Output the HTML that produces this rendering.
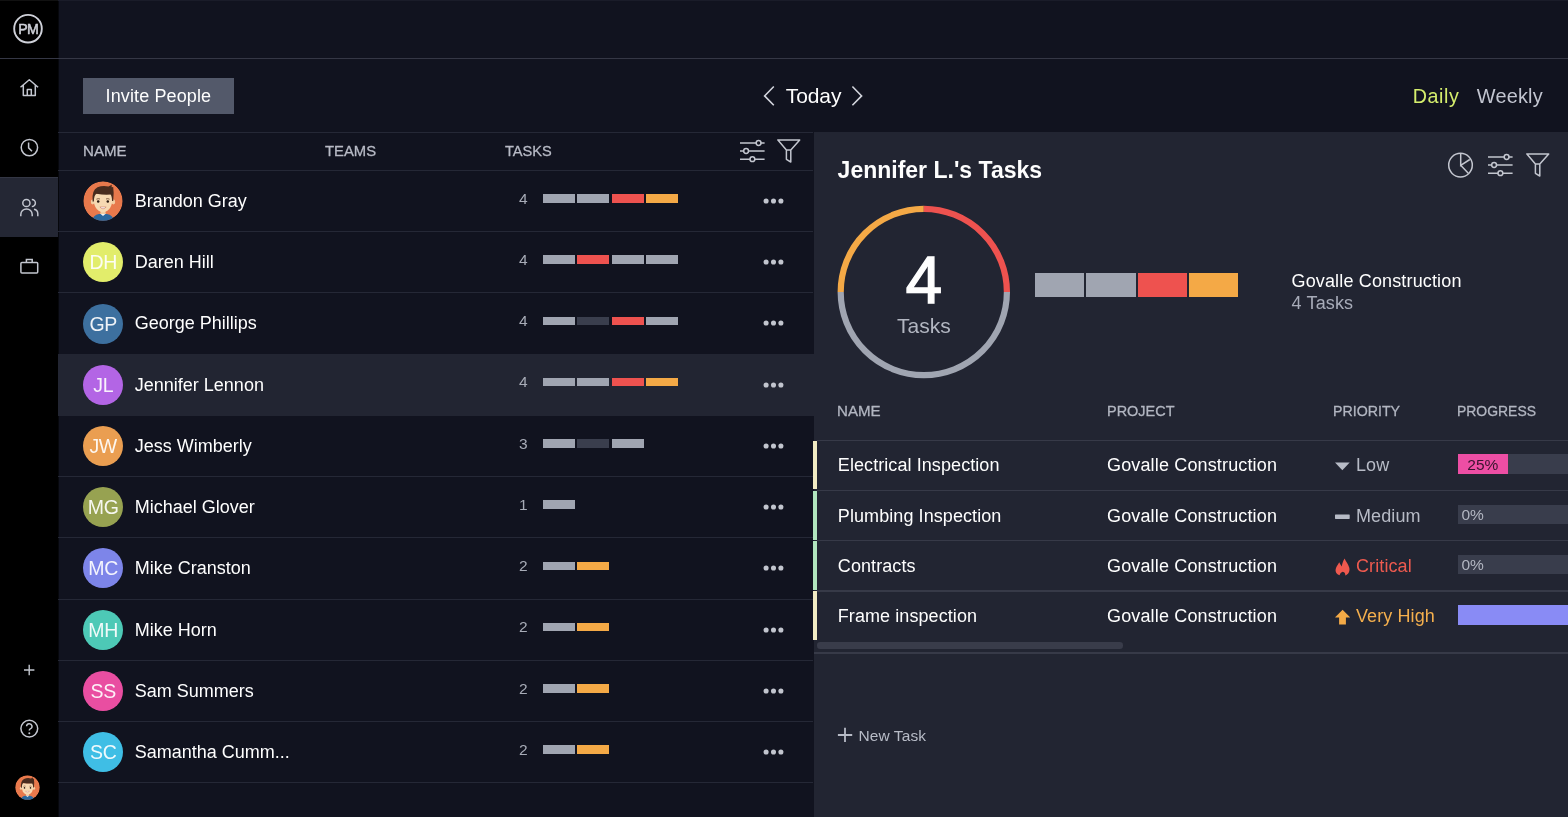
<!DOCTYPE html>
<html><head><meta charset="utf-8"><title>ProjectManager - Team</title>
<style>*{margin:0;padding:0;box-sizing:border-box}
html,body{width:1568px;height:817px;overflow:hidden;background:#11131f;font-family:"Liberation Sans", sans-serif}
#root{position:absolute;left:0;top:0;width:1568px;height:817px;overflow:hidden;will-change:transform;opacity:0.999}
.r{position:absolute}
.t{position:absolute;white-space:nowrap;line-height:1}
.av{position:absolute;width:40px;height:40px;border-radius:50%;color:rgba(255,255,255,0.92);font-size:19.5px;line-height:40px;text-align:center;letter-spacing:-0.3px;font-family:"Liberation Sans", sans-serif}
.dot{position:absolute;width:5.4px;height:5.4px;border-radius:50%;background:#c3c6cf}
</style></head>
<body>
<div id="root">
<div class="r" style="left:0px;top:0px;width:58px;height:817px;background:#000;"></div>
<div class="r" style="left:0px;top:177px;width:58px;height:60px;background:#252835;"></div>
<div class="r" style="left:0px;top:177px;width:58px;height:1px;background:#343745;"></div>
<div class="r" style="left:58px;top:0px;width:1px;height:817px;background:#07080d;"></div>
<div class="r" style="left:0px;top:0px;width:58px;height:1px;background:#121212;"></div>
<div class="r" style="left:58px;top:0px;width:1510px;height:1px;background:#1b1d2a;"></div>
<div class="r" style="left:0px;top:58px;width:1568px;height:1px;background:#363846;"></div>
<svg class="r" style="left:0;top:0" width="58" height="58" viewBox="0 0 58 58">
<circle cx="28" cy="28.7" r="13.8" fill="none" stroke="#d0d2da" stroke-width="1.9"/>
<text x="28.3" y="34.3" text-anchor="middle" font-family="Liberation Sans" font-weight="400" font-size="14.2" letter-spacing="-0.6" fill="#d0d2da" stroke="#d0d2da" stroke-width="0.5">PM</text></svg>
<svg class="r" style="left:19px;top:78px" width="21" height="20" viewBox="0 0 21 20">
<path d="M1.5 9.2 L10.3 1.8 L19.1 9.2 M4.3 7.3 V17.6 H16.3 V7.3 M8.3 17.6 V11.6 H12.3 V17.6" fill="none" stroke="#c4c7d0" stroke-width="1.5" stroke-linejoin="round"/></svg>
<svg class="r" style="left:19px;top:137px" width="21" height="21" viewBox="0 0 21 21">
<circle cx="10.4" cy="10.6" r="8.2" fill="none" stroke="#c4c7d0" stroke-width="1.5"/>
<path d="M9.6 5.6 V10.9 L13 14.2" fill="none" stroke="#c4c7d0" stroke-width="1.5"/></svg>
<svg class="r" style="left:19px;top:197px" width="21" height="21" viewBox="0 0 21 21">
<circle cx="7.4" cy="6" r="3.6" fill="none" stroke="#c4c7d0" stroke-width="1.5"/>
<path d="M1.8 19.2 V17.6 A5.7 5.7 0 0 1 13.2 17.6 V19.2" fill="none" stroke="#c4c7d0" stroke-width="1.5"/>
<path d="M12.8 2.4 A3.6 3.6 0 0 1 12.8 9.6" fill="none" stroke="#c4c7d0" stroke-width="1.5"/>
<path d="M15 12.3 A4.6 4.6 0 0 1 18.8 16.8 V19.2" fill="none" stroke="#c4c7d0" stroke-width="1.5"/></svg>
<svg class="r" style="left:19px;top:257px" width="21" height="19" viewBox="0 0 21 19">
<rect x="1.9" y="5.4" width="16.8" height="10.6" rx="1" fill="none" stroke="#c4c7d0" stroke-width="1.5"/>
<path d="M7.4 5.4 V2.6 H13.2 V5.4" fill="none" stroke="#c4c7d0" stroke-width="1.5"/></svg>
<svg class="r" style="left:23px;top:664px" width="13" height="13" viewBox="0 0 13 13">
<path d="M6.2 0.8 V11.2 M1 6 H11.4" stroke="#c4c7d0" stroke-width="1.4"/></svg>
<svg class="r" style="left:19px;top:718px" width="21" height="21" viewBox="0 0 21 21">
<circle cx="10.3" cy="10.6" r="8.4" fill="none" stroke="#c4c7d0" stroke-width="1.5"/>
<path d="M7.6 8.3 A2.7 2.7 0 1 1 11.2 10.9 C10.4 11.3 10.3 11.8 10.3 12.6" fill="none" stroke="#c4c7d0" stroke-width="1.5"/>
<circle cx="10.3" cy="15.2" r="1" fill="#c4c7d0"/></svg>
<svg class="r" style="left:14.5px;top:775px" width="25" height="25" viewBox="0 0 40 40">
<defs><clipPath id="c14.5775"><circle cx="20" cy="20" r="19.7"/></clipPath></defs>
<g clip-path="url(#c14.5775)">
<circle cx="20" cy="20" r="19.7" fill="#e97a4d"/>
<path d="M9 40 Q10 34 16 33 L24 33 Q30 34 31 40 Z" fill="#2d6aa0"/>
<path d="M17 32.6 L20 35 L23 32.6 Z" fill="#f4f4f4"/>
<rect x="17.5" y="29" width="5" height="4" fill="#f3cfa4"/>
<ellipse cx="9.6" cy="21" rx="1.8" ry="2.4" fill="#f3cfa4"/>
<ellipse cx="30.4" cy="21" rx="1.8" ry="2.4" fill="#f3cfa4"/>
<path d="M10.2 13 Q10 30.6 20 31.2 Q30 30.6 29.8 13 Z" fill="#f8dab3"/>
<path d="M9.6 20.5 Q8.5 9 14.5 6.2 Q20 4 25.5 5.5 L28.8 3.8 L28.6 6.3 L30.2 6.1 Q31.2 12 30.2 20 L29 20 Q29 15 27.5 13.5 Q21 14 13.5 12.8 Q11 14 10.9 20.5 Z" fill="#4a2d1f"/>
<circle cx="15.2" cy="20.6" r="1.25" fill="#2a1a12"/>
<circle cx="24.8" cy="20.6" r="1.25" fill="#2a1a12"/>
<path d="M13.4 18.2 Q15.2 17.2 17 18" stroke="#6b4430" stroke-width="0.8" fill="none"/>
<path d="M23 18 Q24.8 17.2 26.6 18.2" stroke="#6b4430" stroke-width="0.8" fill="none"/>
<path d="M16.9 26 Q20 29.6 23.1 26 Z" fill="#fff" stroke="#b5493a" stroke-width="0.4"/>
</g></svg>
<div class="r" style="left:83px;top:78px;width:151px;height:36px;background:#545a6b;"></div>
<div class="t" style="left:105.60px;top:86.96px;font-size:18px;color:#fff;font-weight:400;letter-spacing:0.12px;">Invite People</div>
<svg class="r" style="left:762px;top:85px" width="14" height="22" viewBox="0 0 14 22">
<path d="M11.8 1.5 L2.6 10.9 L11.8 20.3" fill="none" stroke="#d4d6de" stroke-width="1.6"/></svg>
<svg class="r" style="left:850px;top:85px" width="14" height="22" viewBox="0 0 14 22">
<path d="M2.4 1.5 L11.6 10.9 L2.4 20.3" fill="none" stroke="#d4d6de" stroke-width="1.6"/></svg>
<div class="t" style="left:785.80px;top:85.22px;font-size:21px;color:#fff;font-weight:400;letter-spacing:-0.1px;">Today</div>
<div class="t" style="left:1412.80px;top:86.92px;font-size:19.7px;color:#d6ef6e;font-weight:400;letter-spacing:0.55px;">Daily</div>
<div class="t" style="left:1476.80px;top:86.75px;font-size:19.9px;color:#c3c6d1;font-weight:400;letter-spacing:0.2px;">Weekly</div>
<div class="r" style="left:58px;top:132px;width:755px;height:1px;background:#262937;"></div>
<div class="t" style="left:82.80px;top:143.28px;font-size:15.5px;color:#b9bcc7;font-weight:400;letter-spacing:0px;-webkit-text-stroke:0.3px #b9bcc7;transform:scaleX(0.975);transform-origin:0 0">NAME</div>
<div class="t" style="left:324.60px;top:143.28px;font-size:15.5px;color:#b9bcc7;font-weight:400;letter-spacing:0px;-webkit-text-stroke:0.3px #b9bcc7;transform:scaleX(0.957);transform-origin:0 0">TEAMS</div>
<div class="t" style="left:505.00px;top:143.28px;font-size:15.5px;color:#b9bcc7;font-weight:400;letter-spacing:0px;-webkit-text-stroke:0.3px #b9bcc7;transform:scaleX(0.941);transform-origin:0 0">TASKS</div>
<svg class="r" style="left:739.9px;top:139px" width="26" height="24" viewBox="0 0 26 24">
<path d="M0 4 H24.6 M0 12 H24.6 M0 20.2 H24.6" stroke="#c4c7d0" stroke-width="1.5"/>
<circle cx="18.6" cy="4" r="2.4" fill="#11131f" stroke="#c4c7d0" stroke-width="1.5"/>
<circle cx="6.1" cy="12" r="2.4" fill="#11131f" stroke="#c4c7d0" stroke-width="1.5"/>
<circle cx="12.4" cy="20.2" r="2.4" fill="#11131f" stroke="#c4c7d0" stroke-width="1.5"/></svg>
<svg class="r" style="left:777.1px;top:139.4px" width="25" height="25" viewBox="0 0 25 25">
<path d="M0.9 0.9 L22.7 0.9 L13.8 10.9 L13.8 23 L9.4 20.3 L9.4 10.9 Z M9.4 10.9 L13.8 10.9" fill="none" stroke="#c4c7d0" stroke-width="1.5" stroke-linejoin="round"/></svg>
<div class="r" style="left:58px;top:170px;width:755px;height:1px;background:#262937;"></div>
<svg class="r" style="left:83.2px;top:181.0px" width="40" height="40" viewBox="0 0 40 40">
<defs><clipPath id="c83.2181.0"><circle cx="20" cy="20" r="19.7"/></clipPath></defs>
<g clip-path="url(#c83.2181.0)">
<circle cx="20" cy="20" r="19.7" fill="#e97a4d"/>
<path d="M9 40 Q10 34 16 33 L24 33 Q30 34 31 40 Z" fill="#2d6aa0"/>
<path d="M17 32.6 L20 35 L23 32.6 Z" fill="#f4f4f4"/>
<rect x="17.5" y="29" width="5" height="4" fill="#f3cfa4"/>
<ellipse cx="9.6" cy="21" rx="1.8" ry="2.4" fill="#f3cfa4"/>
<ellipse cx="30.4" cy="21" rx="1.8" ry="2.4" fill="#f3cfa4"/>
<path d="M10.2 13 Q10 30.6 20 31.2 Q30 30.6 29.8 13 Z" fill="#f8dab3"/>
<path d="M9.6 20.5 Q8.5 9 14.5 6.2 Q20 4 25.5 5.5 L28.8 3.8 L28.6 6.3 L30.2 6.1 Q31.2 12 30.2 20 L29 20 Q29 15 27.5 13.5 Q21 14 13.5 12.8 Q11 14 10.9 20.5 Z" fill="#4a2d1f"/>
<circle cx="15.2" cy="20.6" r="1.25" fill="#2a1a12"/>
<circle cx="24.8" cy="20.6" r="1.25" fill="#2a1a12"/>
<path d="M13.4 18.2 Q15.2 17.2 17 18" stroke="#6b4430" stroke-width="0.8" fill="none"/>
<path d="M23 18 Q24.8 17.2 26.6 18.2" stroke="#6b4430" stroke-width="0.8" fill="none"/>
<path d="M16.9 26 Q20 29.6 23.1 26 Z" fill="#fff" stroke="#b5493a" stroke-width="0.4"/>
</g></svg>
<div class="t" style="left:134.80px;top:191.96px;font-size:18px;color:#fff;font-weight:400;letter-spacing:0px;">Brandon Gray</div>
<div class="t" style="left:519.00px;top:190.58px;font-size:15.5px;color:#a9adb8;font-weight:400;letter-spacing:0px;">4</div>
<div class="r" style="left:543.0px;top:194.1px;width:32px;height:8.6px;background:#a1a6b2;"></div>
<div class="r" style="left:577.3px;top:194.1px;width:32px;height:8.6px;background:#a1a6b2;"></div>
<div class="r" style="left:611.6px;top:194.1px;width:32px;height:8.6px;background:#ef5350;"></div>
<div class="r" style="left:645.9px;top:194.1px;width:32px;height:8.6px;background:#f5aa47;"></div>
<svg class="r" style="left:760px;top:196.00px" width="26" height="10" viewBox="0 0 26 10"><circle cx="6.1" cy="5" r="2.55" fill="#c3c6cf"/><circle cx="13.5" cy="5" r="2.55" fill="#c3c6cf"/><circle cx="20.9" cy="5" r="2.55" fill="#c3c6cf"/></svg>
<div class="r" style="left:58px;top:231px;width:755px;height:1px;background:#262937;"></div>
<div class="av" style="left:83.2px;top:242.2px;background:#e3ee6c">DH</div>
<div class="t" style="left:134.80px;top:253.20px;font-size:18px;color:#fff;font-weight:400;letter-spacing:0px;">Daren Hill</div>
<div class="t" style="left:519.00px;top:251.82px;font-size:15.5px;color:#a9adb8;font-weight:400;letter-spacing:0px;">4</div>
<div class="r" style="left:543.0px;top:255.3px;width:32px;height:8.6px;background:#a1a6b2;"></div>
<div class="r" style="left:577.3px;top:255.3px;width:32px;height:8.6px;background:#ef5350;"></div>
<div class="r" style="left:611.6px;top:255.3px;width:32px;height:8.6px;background:#a1a6b2;"></div>
<div class="r" style="left:645.9px;top:255.3px;width:32px;height:8.6px;background:#a1a6b2;"></div>
<svg class="r" style="left:760px;top:257.24px" width="26" height="10" viewBox="0 0 26 10"><circle cx="6.1" cy="5" r="2.55" fill="#c3c6cf"/><circle cx="13.5" cy="5" r="2.55" fill="#c3c6cf"/><circle cx="20.9" cy="5" r="2.55" fill="#c3c6cf"/></svg>
<div class="r" style="left:58px;top:292px;width:755px;height:1px;background:#262937;"></div>
<div class="av" style="left:83.2px;top:303.5px;background:#3e71a0">GP</div>
<div class="t" style="left:134.80px;top:314.44px;font-size:18px;color:#fff;font-weight:400;letter-spacing:0px;">George Phillips</div>
<div class="t" style="left:519.00px;top:313.06px;font-size:15.5px;color:#a9adb8;font-weight:400;letter-spacing:0px;">4</div>
<div class="r" style="left:543.0px;top:316.6px;width:32px;height:8.6px;background:#a1a6b2;"></div>
<div class="r" style="left:577.3px;top:316.6px;width:32px;height:8.6px;background:#3b3f4e;"></div>
<div class="r" style="left:611.6px;top:316.6px;width:32px;height:8.6px;background:#ef5350;"></div>
<div class="r" style="left:645.9px;top:316.6px;width:32px;height:8.6px;background:#a1a6b2;"></div>
<svg class="r" style="left:760px;top:318.48px" width="26" height="10" viewBox="0 0 26 10"><circle cx="6.1" cy="5" r="2.55" fill="#c3c6cf"/><circle cx="13.5" cy="5" r="2.55" fill="#c3c6cf"/><circle cx="20.9" cy="5" r="2.55" fill="#c3c6cf"/></svg>
<div class="r" style="left:58px;top:354px;width:755px;height:1px;background:#262937;"></div>
<div class="r" style="left:58px;top:354px;width:756px;height:62px;background:#232633;"></div>
<div class="av" style="left:83.2px;top:364.7px;background:#b466e6">JL</div>
<div class="t" style="left:134.80px;top:375.68px;font-size:18px;color:#fff;font-weight:400;letter-spacing:0px;">Jennifer Lennon</div>
<div class="t" style="left:519.00px;top:374.30px;font-size:15.5px;color:#a9adb8;font-weight:400;letter-spacing:0px;">4</div>
<div class="r" style="left:543.0px;top:377.8px;width:32px;height:8.6px;background:#a1a6b2;"></div>
<div class="r" style="left:577.3px;top:377.8px;width:32px;height:8.6px;background:#a1a6b2;"></div>
<div class="r" style="left:611.6px;top:377.8px;width:32px;height:8.6px;background:#ef5350;"></div>
<div class="r" style="left:645.9px;top:377.8px;width:32px;height:8.6px;background:#f5aa47;"></div>
<svg class="r" style="left:760px;top:379.72px" width="26" height="10" viewBox="0 0 26 10"><circle cx="6.1" cy="5" r="2.55" fill="#c3c6cf"/><circle cx="13.5" cy="5" r="2.55" fill="#c3c6cf"/><circle cx="20.9" cy="5" r="2.55" fill="#c3c6cf"/></svg>
<div class="av" style="left:83.2px;top:426.0px;background:#eb9f52">JW</div>
<div class="t" style="left:134.80px;top:436.92px;font-size:18px;color:#fff;font-weight:400;letter-spacing:0px;">Jess Wimberly</div>
<div class="t" style="left:519.00px;top:435.54px;font-size:15.5px;color:#a9adb8;font-weight:400;letter-spacing:0px;">3</div>
<div class="r" style="left:543.0px;top:439.1px;width:32px;height:8.6px;background:#a1a6b2;"></div>
<div class="r" style="left:577.3px;top:439.1px;width:32px;height:8.6px;background:#3b3f4e;"></div>
<div class="r" style="left:611.6px;top:439.1px;width:32px;height:8.6px;background:#a1a6b2;"></div>
<svg class="r" style="left:760px;top:440.96px" width="26" height="10" viewBox="0 0 26 10"><circle cx="6.1" cy="5" r="2.55" fill="#c3c6cf"/><circle cx="13.5" cy="5" r="2.55" fill="#c3c6cf"/><circle cx="20.9" cy="5" r="2.55" fill="#c3c6cf"/></svg>
<div class="r" style="left:58px;top:476px;width:755px;height:1px;background:#262937;"></div>
<div class="av" style="left:83.2px;top:487.2px;background:#98a352">MG</div>
<div class="t" style="left:134.80px;top:498.16px;font-size:18px;color:#fff;font-weight:400;letter-spacing:0px;">Michael Glover</div>
<div class="t" style="left:519.00px;top:496.78px;font-size:15.5px;color:#a9adb8;font-weight:400;letter-spacing:0px;">1</div>
<div class="r" style="left:543.0px;top:500.3px;width:32px;height:8.6px;background:#a1a6b2;"></div>
<svg class="r" style="left:760px;top:502.20px" width="26" height="10" viewBox="0 0 26 10"><circle cx="6.1" cy="5" r="2.55" fill="#c3c6cf"/><circle cx="13.5" cy="5" r="2.55" fill="#c3c6cf"/><circle cx="20.9" cy="5" r="2.55" fill="#c3c6cf"/></svg>
<div class="r" style="left:58px;top:537px;width:755px;height:1px;background:#262937;"></div>
<div class="av" style="left:83.2px;top:548.4px;background:#7e86ea">MC</div>
<div class="t" style="left:134.80px;top:559.40px;font-size:18px;color:#fff;font-weight:400;letter-spacing:0px;">Mike Cranston</div>
<div class="t" style="left:519.00px;top:558.02px;font-size:15.5px;color:#a9adb8;font-weight:400;letter-spacing:0px;">2</div>
<div class="r" style="left:543.0px;top:561.5px;width:32px;height:8.6px;background:#a1a6b2;"></div>
<div class="r" style="left:577.3px;top:561.5px;width:32px;height:8.6px;background:#f5aa47;"></div>
<svg class="r" style="left:760px;top:563.44px" width="26" height="10" viewBox="0 0 26 10"><circle cx="6.1" cy="5" r="2.55" fill="#c3c6cf"/><circle cx="13.5" cy="5" r="2.55" fill="#c3c6cf"/><circle cx="20.9" cy="5" r="2.55" fill="#c3c6cf"/></svg>
<div class="r" style="left:58px;top:599px;width:755px;height:1px;background:#262937;"></div>
<div class="av" style="left:83.2px;top:609.7px;background:#4ecab7">MH</div>
<div class="t" style="left:134.80px;top:620.64px;font-size:18px;color:#fff;font-weight:400;letter-spacing:0px;">Mike Horn</div>
<div class="t" style="left:519.00px;top:619.26px;font-size:15.5px;color:#a9adb8;font-weight:400;letter-spacing:0px;">2</div>
<div class="r" style="left:543.0px;top:622.8px;width:32px;height:8.6px;background:#a1a6b2;"></div>
<div class="r" style="left:577.3px;top:622.8px;width:32px;height:8.6px;background:#f5aa47;"></div>
<svg class="r" style="left:760px;top:624.68px" width="26" height="10" viewBox="0 0 26 10"><circle cx="6.1" cy="5" r="2.55" fill="#c3c6cf"/><circle cx="13.5" cy="5" r="2.55" fill="#c3c6cf"/><circle cx="20.9" cy="5" r="2.55" fill="#c3c6cf"/></svg>
<div class="r" style="left:58px;top:660px;width:755px;height:1px;background:#262937;"></div>
<div class="av" style="left:83.2px;top:670.9px;background:#ea4fa2">SS</div>
<div class="t" style="left:134.80px;top:681.88px;font-size:18px;color:#fff;font-weight:400;letter-spacing:0px;">Sam Summers</div>
<div class="t" style="left:519.00px;top:680.50px;font-size:15.5px;color:#a9adb8;font-weight:400;letter-spacing:0px;">2</div>
<div class="r" style="left:543.0px;top:684.0px;width:32px;height:8.6px;background:#a1a6b2;"></div>
<div class="r" style="left:577.3px;top:684.0px;width:32px;height:8.6px;background:#f5aa47;"></div>
<svg class="r" style="left:760px;top:685.92px" width="26" height="10" viewBox="0 0 26 10"><circle cx="6.1" cy="5" r="2.55" fill="#c3c6cf"/><circle cx="13.5" cy="5" r="2.55" fill="#c3c6cf"/><circle cx="20.9" cy="5" r="2.55" fill="#c3c6cf"/></svg>
<div class="r" style="left:58px;top:721px;width:755px;height:1px;background:#262937;"></div>
<div class="av" style="left:83.2px;top:732.2px;background:#40bfe6">SC</div>
<div class="t" style="left:134.80px;top:743.12px;font-size:18px;color:#fff;font-weight:400;letter-spacing:0px;">Samantha Cumm...</div>
<div class="t" style="left:519.00px;top:741.74px;font-size:15.5px;color:#a9adb8;font-weight:400;letter-spacing:0px;">2</div>
<div class="r" style="left:543.0px;top:745.3px;width:32px;height:8.6px;background:#a1a6b2;"></div>
<div class="r" style="left:577.3px;top:745.3px;width:32px;height:8.6px;background:#f5aa47;"></div>
<svg class="r" style="left:760px;top:747.16px" width="26" height="10" viewBox="0 0 26 10"><circle cx="6.1" cy="5" r="2.55" fill="#c3c6cf"/><circle cx="13.5" cy="5" r="2.55" fill="#c3c6cf"/><circle cx="20.9" cy="5" r="2.55" fill="#c3c6cf"/></svg>
<div class="r" style="left:58px;top:782px;width:755px;height:1px;background:#262937;"></div>
<div class="r" style="left:813.5px;top:132px;width:754.5px;height:685px;background:#232633;"></div>
<div class="t" style="left:837.60px;top:159.13px;font-size:23px;color:#fff;font-weight:700;letter-spacing:0px;">Jennifer L.'s Tasks</div>
<svg class="r" style="left:1447px;top:152px" width="27" height="27" viewBox="0 0 27 27">
<circle cx="13.5" cy="13.1" r="11.8" fill="none" stroke="#c4c7d0" stroke-width="1.5"/>
<path d="M13.7 1.3 V13.3 L22.8 7.5 M13.7 13.3 L21.3 21.3" fill="none" stroke="#c4c7d0" stroke-width="1.5"/></svg>
<svg class="r" style="left:1488.4px;top:153px" width="26" height="24" viewBox="0 0 26 24">
<path d="M0 4 H24.6 M0 12 H24.6 M0 20.2 H24.6" stroke="#c4c7d0" stroke-width="1.5"/>
<circle cx="18.6" cy="4" r="2.4" fill="#232633" stroke="#c4c7d0" stroke-width="1.5"/>
<circle cx="6.1" cy="12" r="2.4" fill="#232633" stroke="#c4c7d0" stroke-width="1.5"/>
<circle cx="12.4" cy="20.2" r="2.4" fill="#232633" stroke="#c4c7d0" stroke-width="1.5"/></svg>
<svg class="r" style="left:1525.7px;top:152.9px" width="25" height="25" viewBox="0 0 25 25">
<path d="M0.9 0.9 L22.7 0.9 L13.8 10.9 L13.8 23 L9.4 20.3 L9.4 10.9 Z M9.4 10.9 L13.8 10.9" fill="none" stroke="#c4c7d0" stroke-width="1.5" stroke-linejoin="round"/></svg>
<svg class="r" style="left:0;top:0" width="1568" height="817"><path d="M1006.90 292.00 A83.1 83.1 0 0 1 840.70 292.00" fill="none" stroke="#a1a6b2" stroke-width="6.2"/><path d="M840.70 292.00 A83.1 83.1 0 0 1 923.80 208.90" fill="none" stroke="#f5aa47" stroke-width="6.2"/><path d="M923.80 208.90 A83.1 83.1 0 0 1 1006.90 292.00" fill="none" stroke="#ef5350" stroke-width="6.2"/></svg>
<div class="t" style="left:823.8px;width:200px;text-align:center;top:246.7px;font-size:66px;color:#fff;-webkit-text-stroke:1.3px #fff">4</div>
<div class="t" style="left:823.8px;width:200px;text-align:center;top:315.2px;font-size:21px;color:#b3b7c2">Tasks</div>
<div class="r" style="left:1035.0px;top:273px;width:49.3px;height:24.4px;background:#a1a6b2;"></div>
<div class="r" style="left:1086.3px;top:273px;width:49.3px;height:24.4px;background:#a1a6b2;"></div>
<div class="r" style="left:1137.6px;top:273px;width:49.3px;height:24.4px;background:#ef5350;"></div>
<div class="r" style="left:1188.9px;top:273px;width:49.3px;height:24.4px;background:#f5aa47;"></div>
<div class="t" style="left:1291.50px;top:272.16px;font-size:18px;color:#fff;font-weight:400;letter-spacing:0.15px;">Govalle Construction</div>
<div class="t" style="left:1291.50px;top:293.96px;font-size:18px;color:#a9adba;font-weight:400;letter-spacing:0.15px;">4 Tasks</div>
<div class="t" style="left:837.40px;top:402.88px;font-size:15.5px;color:#b3b7c2;font-weight:400;letter-spacing:0px;-webkit-text-stroke:0.3px #b3b7c2;transform:scaleX(0.975);transform-origin:0 0">NAME</div>
<div class="t" style="left:1106.60px;top:402.88px;font-size:15.5px;color:#b3b7c2;font-weight:400;letter-spacing:0px;-webkit-text-stroke:0.3px #b3b7c2;transform:scaleX(0.934);transform-origin:0 0">PROJECT</div>
<div class="t" style="left:1333.40px;top:402.88px;font-size:15.5px;color:#b3b7c2;font-weight:400;letter-spacing:0px;-webkit-text-stroke:0.3px #b3b7c2;transform:scaleX(0.916);transform-origin:0 0">PRIORITY</div>
<div class="t" style="left:1456.50px;top:402.88px;font-size:15.5px;color:#b3b7c2;font-weight:400;letter-spacing:0px;-webkit-text-stroke:0.3px #b3b7c2;transform:scaleX(0.899);transform-origin:0 0">PROGRESS</div>
<div class="r" style="left:817px;top:439.5px;width:751px;height:1.2px;background:#383b49;"></div>
<div class="r" style="left:813px;top:440.5px;width:4.2px;height:48.9px;background:#f2ecc4;"></div>
<div class="t" style="left:837.80px;top:456.26px;font-size:18px;color:#fff;font-weight:400;letter-spacing:0.08px;">Electrical Inspection</div>
<div class="t" style="left:1107.00px;top:456.26px;font-size:18px;color:#fff;font-weight:400;letter-spacing:0.15px;">Govalle Construction</div>
<div class="t" style="left:1356.00px;top:456.26px;font-size:18px;color:#b8bcc7;font-weight:400;letter-spacing:0.1px;">Low</div>
<svg class="r" style="left:1335px;top:454.2px" width="16" height="22" viewBox="0 0 16 22"><path d="M0 8.4 H14.7 L7.35 16.2 Z" fill="#b8bcc7"/></svg>
<div class="r" style="left:1457.6px;top:454.3px;width:111px;height:19.6px;background:#3a3e4d;"></div>
<div class="r" style="left:1457.6px;top:454.3px;width:50.4px;height:19.6px;background:#ee4fa5;"></div>
<div class="t" style="left:1457.6px;width:50.4px;text-align:center;top:456.7px;font-size:15.5px;color:#3a1530">25%</div>
<div class="r" style="left:817px;top:489.8px;width:751px;height:1.2px;background:#383b49;"></div>
<div class="r" style="left:813px;top:490.8px;width:4.2px;height:48.9px;background:#b2e7bf;"></div>
<div class="t" style="left:837.80px;top:506.51px;font-size:18px;color:#fff;font-weight:400;letter-spacing:0.08px;">Plumbing Inspection</div>
<div class="t" style="left:1107.00px;top:506.51px;font-size:18px;color:#fff;font-weight:400;letter-spacing:0.15px;">Govalle Construction</div>
<div class="t" style="left:1356.00px;top:506.51px;font-size:18px;color:#b8bcc7;font-weight:400;letter-spacing:0.1px;">Medium</div>
<svg class="r" style="left:1335px;top:504.4px" width="16" height="22" viewBox="0 0 16 22"><rect x="0" y="10.5" width="14.7" height="4.4" rx="0.6" fill="#b8bcc7"/></svg>
<div class="r" style="left:1457.6px;top:504.6px;width:111px;height:19.6px;background:#3a3e4d;"></div>
<div class="t" style="left:1461.4px;top:507.0px;font-size:15.5px;color:#b3b7c2">0%</div>
<div class="r" style="left:817px;top:540.1px;width:751px;height:1.2px;background:#383b49;"></div>
<div class="r" style="left:813px;top:541.0px;width:4.2px;height:48.9px;background:#b2e7bf;"></div>
<div class="t" style="left:837.80px;top:556.76px;font-size:18px;color:#fff;font-weight:400;letter-spacing:0.08px;">Contracts</div>
<div class="t" style="left:1107.00px;top:556.76px;font-size:18px;color:#fff;font-weight:400;letter-spacing:0.15px;">Govalle Construction</div>
<div class="t" style="left:1356.00px;top:556.76px;font-size:18px;color:#ef5b50;font-weight:400;letter-spacing:0.1px;">Critical</div>
<svg class="r" style="left:1330px;top:552.8px" width="26" height="26" viewBox="0 0 26 26"><path d="M9.6 22.3 C6.5 21.5 5 18.5 5.8 15.8 C6.4 13.5 8 11.8 9.2 9.3 C10 10.8 10.8 12.3 11.8 13.4 C12.2 10.5 13.2 7.8 14.6 5.6 C15.8 8.8 18.2 11 19.2 14.5 C20.2 18.2 18.5 21.4 15.2 22.4 C15.6 20.8 14.6 19.2 12.8 18.8 C11.2 19.2 10 20.6 9.6 22.3 Z" fill="#f05a4f"/></svg>
<div class="r" style="left:1457.6px;top:554.8px;width:111px;height:19.6px;background:#3a3e4d;"></div>
<div class="t" style="left:1461.4px;top:557.2px;font-size:15.5px;color:#b3b7c2">0%</div>
<div class="r" style="left:817px;top:590.4px;width:751px;height:1.2px;background:#383b49;"></div>
<div class="r" style="left:813px;top:591.2px;width:4.2px;height:48.9px;background:#f2ecc4;"></div>
<div class="t" style="left:837.80px;top:607.01px;font-size:18px;color:#fff;font-weight:400;letter-spacing:0.08px;">Frame inspection</div>
<div class="t" style="left:1107.00px;top:607.01px;font-size:18px;color:#fff;font-weight:400;letter-spacing:0.15px;">Govalle Construction</div>
<div class="t" style="left:1356.00px;top:607.01px;font-size:18px;color:#f5b04e;font-weight:400;letter-spacing:0.1px;">Very High</div>
<svg class="r" style="left:1330px;top:603.1px" width="26" height="26" viewBox="0 0 26 26"><path d="M12.6 6.8 L19.8 14.1 Q20.3 14.6 19.6 14.6 L15.9 14.6 L15.9 21.5 L9.1 21.5 L9.1 14.6 L5.6 14.6 Q4.9 14.6 5.4 14.1 Z" fill="#f5ab47"/></svg>
<div class="r" style="left:1457.6px;top:605.1px;width:111px;height:19.6px;background:#8a8cf6;"></div>
<div class="r" style="left:817px;top:642.2px;width:306px;height:6.6px;background:#3a3d4b;border-radius:3.3px"></div>
<div class="r" style="left:813.5px;top:652.2px;width:754.5px;height:1.7px;background:#383b49;"></div>
<svg class="r" style="left:837px;top:727px" width="16" height="16" viewBox="0 0 16 16">
<path d="M8 0.8 V15 M0.9 8 H15.2" stroke="#b8bcc7" stroke-width="1.8"/></svg>
<div class="t" style="left:858.40px;top:728.28px;font-size:15.5px;color:#b8bcc7;font-weight:400;letter-spacing:0.1px;">New Task</div>
</div>
</body></html>
